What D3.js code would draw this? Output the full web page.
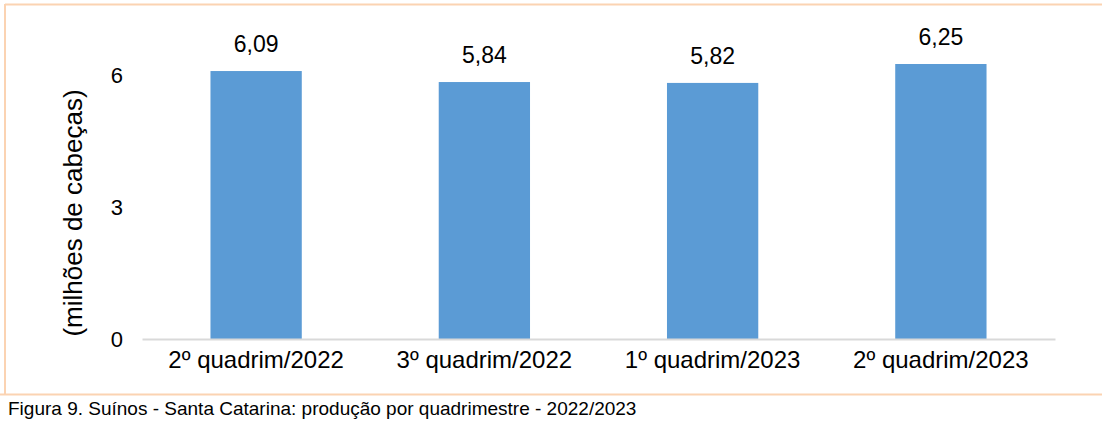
<!DOCTYPE html>
<html><head><meta charset="utf-8">
<script src="https://cdn.jsdelivr.net/npm/d3@7"></script>
<style>
body{margin:0;background:#fff;}
svg{display:block;font-family:"Liberation Sans",Arial,sans-serif;}
</style></head>
<body>
<svg id="chart" width="1102" height="426"></svg>
<script>
const categories = ["2º quadrim/2022", "3º quadrim/2022", "1º quadrim/2023", "2º quadrim/2023"];
const values = [6.09, 5.84, 5.82, 6.25];
const valueLabels = ["6,09", "5,84", "5,82", "6,25"];
const yTicks = [0, 3, 6];
const yTitle = "(milhões de cabeças)";
const caption = "Figura 9. Suínos - Santa Catarina: produção por quadrimestre - 2022/2023";

const svg = d3.select("#chart");
const W = 1102, H = 426;
const x0 = 142, x1 = 1055, yBase = 339;

// frame lines
const frame = "#fbd3b2";
svg.append("line").attr("x1",5).attr("x2",W).attr("y1",4.5).attr("y2",4.5).attr("stroke",frame).attr("stroke-width",2);
svg.append("line").attr("x1",5).attr("x2",5).attr("y1",4).attr("y2",395).attr("stroke",frame).attr("stroke-width",2);
svg.append("line").attr("x1",0).attr("x2",W).attr("y1",394.5).attr("y2",394.5).attr("stroke",frame).attr("stroke-width",2);

const x = d3.scaleBand().domain(categories).range([x0, x1]).paddingInner(0.6).paddingOuter(0.3);
const y = d3.scaleLinear().domain([0, 6]).range([yBase, yBase - 6*44]);

// bars
svg.selectAll("rect.bar").data(values).join("rect")
  .attr("class","bar")
  .attr("x",(d,i)=>x(categories[i]))
  .attr("width",x.bandwidth())
  .attr("y",d=>y(d))
  .attr("height",d=>y(0)-y(d))
  .attr("fill","#5b9bd5");

// x axis
const xAxis = svg.append("g").attr("transform",`translate(0,${yBase})`)
  .call(d3.axisBottom(x).tickSize(0).tickSizeOuter(0));
xAxis.select(".domain").attr("stroke","#d9d9d9").attr("stroke-width",2);
xAxis.selectAll("text").attr("font-size",24).attr("fill","#000")
  .attr("font-family","Liberation Sans, Arial, sans-serif")
  .attr("dy",null).attr("y",29);

// y axis
const yAxis = svg.append("g").attr("transform",`translate(${x0},0)`)
  .call(d3.axisLeft(y).tickValues(yTicks).tickSize(0).tickPadding(19).tickFormat(d3.format("d")));
yAxis.select(".domain").remove();
yAxis.selectAll("text").attr("font-size",22).attr("fill","#000")
  .attr("font-family","Liberation Sans, Arial, sans-serif");

// value labels
svg.selectAll("text.val").data(values).join("text")
  .attr("class","val")
  .attr("x",(d,i)=>x(categories[i])+x.bandwidth()/2)
  .attr("y",d=>y(d)-19)
  .attr("text-anchor","middle")
  .attr("font-size",23)
  .attr("fill","#000")
  .text((d,i)=>valueLabels[i]);

// y title
svg.append("text")
  .attr("transform","translate(82,213) rotate(-90)")
  .attr("text-anchor","middle")
  .attr("font-size",26)
  .attr("fill","#000")
  .text(yTitle);

// caption
svg.append("text").attr("x",8).attr("y",415)
  .attr("font-size",19).attr("fill","#000").text(caption);
</script>
</body></html>
